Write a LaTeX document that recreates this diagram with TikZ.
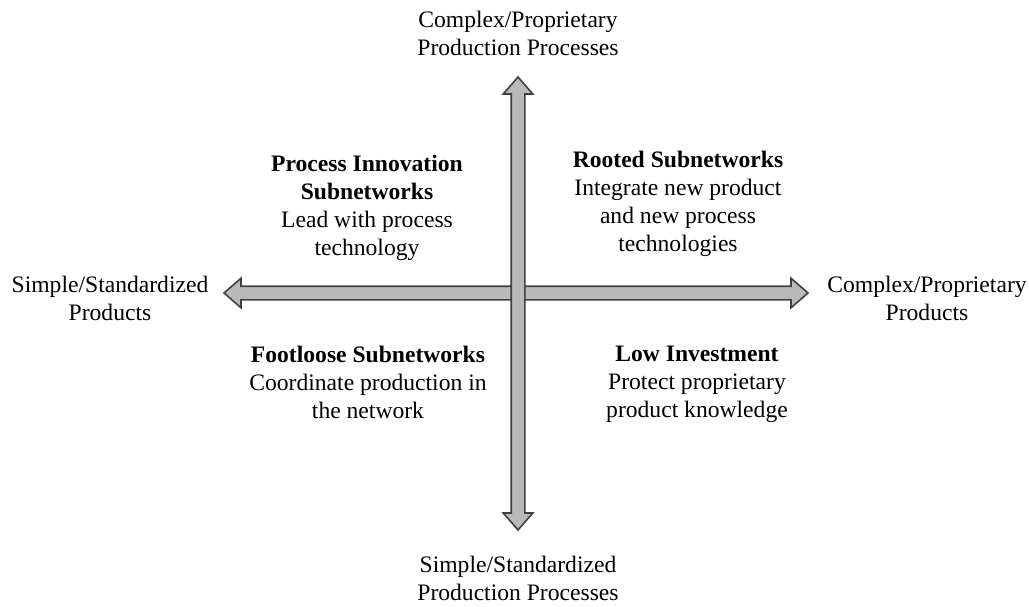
\documentclass[tikz,border=0pt]{standalone}
\usepackage{fontspec}
\setmainfont{Liberation Serif}
\usepackage{tikz}
\usetikzlibrary{shapes.arrows,positioning}

\begin{document}
\begin{tikzpicture}[x=0.5pt, y=-0.5pt,
  quad/.style={anchor=north, align=center, inner sep=0pt,
               font=\fontsize{11.8}{14}\selectfont},
  axislabel/.style={quad},
  axisarrow/.style={double arrow, draw=black!75, fill=gray!55,
                    line width=0.8pt, inner sep=3pt,
                    double arrow head extend=4pt,
                    double arrow tip angle=82}
]
  \path[use as bounding box] (0,0) rectangle (1029,606);
  % the two axes, vertical one on top
  \node[axisarrow, minimum height=292pt] (haxis) at (516,293) {};
  \node[axisarrow, minimum height=226.5pt, rotate=90] (vaxis) at (518,303.5) {};
  % axis ends
  \node[axislabel] (top) at (518,11) {Complex/Proprietary\\Production Processes};
  \node[axislabel] (bottom) at (518,556) {Simple/Standardized\\Production Processes};
  \node[axislabel] (left) at (110,276) {Simple/Standardized\\Products};
  \node[axislabel] (right) at (927,276) {Complex/Proprietary\\Products};
  % quadrants
  \node[quad] (procinno) at (367,155)
    {\textbf{Process Innovation}\\\textbf{Subnetworks}\\Lead with process\\technology};
  \node[quad] (rooted) at (678,151)
    {\textbf{Rooted Subnetworks}\\Integrate new product\\and new process\\technologies};
  \node[quad] (footloose) at (368,346)
    {\textbf{Footloose Subnetworks}\\Coordinate production in\\the network};
  \node[quad] (lowinv) at (697,346)
    {\textbf{Low Investment}\\Protect proprietary\\product knowledge};
\end{tikzpicture}
\end{document}
